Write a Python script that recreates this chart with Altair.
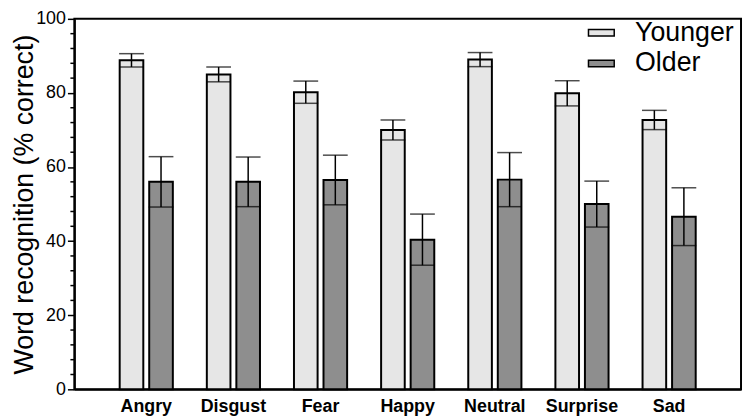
import altair as alt
import pandas as pd

categories = ["Angry", "Disgust", "Fear", "Happy", "Neutral", "Surprise", "Sad"]
groups = ["Younger", "Older"]
younger_mean = [88.8, 85.0, 80.2, 70.0, 89.0, 79.9, 72.7]
younger_err = [1.8, 2.0, 3.0, 2.7, 1.9, 3.4, 2.6]
older_mean = [56.0, 56.0, 56.5, 40.4, 56.6, 50.0, 46.6]
older_err = [6.8, 6.7, 6.7, 6.9, 7.3, 6.2, 7.8]
colors = ["#e6e6e6", "#8e8e8e"]
major_ticks = [0, 20, 40, 60, 80, 100]
minor_ticks = [v for v in range(0, 101, 4) if v % 20 != 0]

rows = []
for g, means, errs in [("Younger", younger_mean, younger_err), ("Older", older_mean, older_err)]:
    for c, m, e in zip(categories, means, errs):
        rows.append({"emotion": c, "group": g, "mean": m, "lo": m - e, "hi": m + e})
df = pd.DataFrame(rows)
minor_df = pd.DataFrame({"v": minor_ticks})

FONT = "Liberation Sans"
W, H = 673, 374

x = alt.X(
    "emotion:N", sort=categories,
    scale=alt.Scale(paddingInner=0.39, paddingOuter=0.52),
    axis=alt.Axis(title=None, labelAngle=0, labelFont=FONT, labelFontSize=18,
                  labelFontWeight="bold", labelColor="black", ticks=False, tickSize=0,
                  labelPadding=22, labelBaseline="alphabetic",
                  domainColor="black", domainWidth=2),
)
xo = alt.XOffset("group:N", sort=groups, scale=alt.Scale(paddingInner=0.2, paddingOuter=0))
yscale = alt.Scale(domain=[0, 100], nice=False, zero=True)
yaxis = alt.Axis(values=major_ticks, tickSize=7, tickWidth=1.5, tickColor="black",
                 labelFont=FONT, labelFontSize=18, labelColor="black", labelPadding=2,
                 domainColor="black", domainWidth=2, grid=False, orient="left",
                 title="Word recognition (% correct)", titleFont=FONT,
                 titleFontSize=27, titleFontWeight="normal", titleColor="black",
                 titleX=-36, titleY=H / 2)

base = alt.Chart(df)

bars = base.mark_bar(stroke="black", strokeWidth=2).encode(
    x=x, xOffset=xo,
    y=alt.Y("mean:Q", scale=yscale, axis=yaxis),
    color=alt.Color("group:N", sort=groups,
                    scale=alt.Scale(domain=groups, range=colors),
                    legend=alt.Legend(title=None, orient="none", legendX=518, legendY=0,
                                      symbolType="M-1,-0.25H1V0.25H-1Z", symbolSize=676,
                                      symbolStrokeColor="black", symbolStrokeWidth=1.5,
                                      labelFont=FONT, labelFontSize=27, labelColor="black",
                                      labelOffset=20, rowPadding=4, padding=0)),
)

minor = alt.Chart(minor_df).mark_rule(color="black", strokeWidth=1.5).encode(
    y=alt.Y("v:Q", scale=yscale, axis=yaxis),
    x=alt.value(-4), x2=alt.value(0),
)

rules = base.mark_rule(color="black", strokeWidth=1.5).encode(
    x=x, xOffset=xo,
    y=alt.Y("lo:Q", scale=yscale, axis=yaxis),
    y2="hi:Q",
)

cap_lo = base.mark_tick(color="black", size=25, thickness=1.5).encode(
    x=x, xOffset=xo, y=alt.Y("lo:Q", scale=yscale, axis=yaxis),
)
cap_hi = base.mark_tick(color="black", size=25, thickness=1.5).encode(
    x=x, xOffset=xo, y=alt.Y("hi:Q", scale=yscale, axis=yaxis),
)

chart = (
    alt.layer(bars, rules, cap_lo, cap_hi, minor)
    .properties(width=W, height=H, autosize="none",
                padding={"left": 67, "top": 9, "right": 2, "bottom": 26})
    .configure_view(stroke="black", strokeWidth=2)
)

chart.save("out.html", embed_options={"renderer": "svg", "actions": False})
